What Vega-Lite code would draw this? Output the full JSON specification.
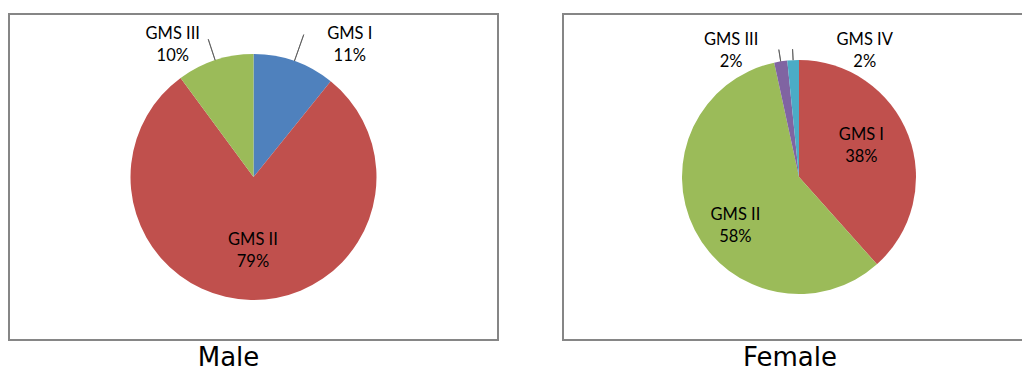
{
  "$schema": "https://vega.github.io/schema/vega-lite/v6.json",
  "background": "white",
  "padding": {"left": 8, "top": 13, "right": 0, "bottom": 0},
  "spacing": 63,
  "resolve": {"scale": {"color": "independent", "theta": "independent"}},
  "config": {
    "text": {"font": "Lato", "fontSize": 16.5, "color": "#000000", "lineBreak": "\n", "lineHeight": 22}
  },
  "datasets": {
    "male": [
      {"panel": "Male", "category": "GMS I", "share": 10.8, "order": 1},
      {"panel": "Male", "category": "GMS II", "share": 79.1, "order": 2},
      {"panel": "Male", "category": "GMS III", "share": 10.1, "order": 3}
    ],
    "female": [
      {"panel": "Female", "category": "GMS I", "share": 38.4, "order": 1},
      {"panel": "Female", "category": "GMS II", "share": 58.2, "order": 2},
      {"panel": "Female", "category": "GMS III", "share": 1.8, "order": 3},
      {"panel": "Female", "category": "GMS IV", "share": 1.6, "order": 4}
    ]
  },
  "hconcat": [
    {
      "width": 489,
      "height": 326,
      "view": {"stroke": "#868686", "strokeWidth": 2},
      "title": {"text": "Male", "orient": "bottom", "font": "DejaVu Sans", "fontSize": 26, "fontWeight": "normal", "color": "#000000", "dx": -25, "offset": 5},
      "data": {"name": "male"},
      "transform": [
        {"stack": "share", "groupby": [], "sort": [{"field": "order", "order": "ascending"}], "as": ["s0", "s1"]},
        {"calculate": "(datum.s0 + datum.s1) / 2", "as": "mid"},
        {"calculate": "datum.panel + '|' + datum.category", "as": "key"},
        {"calculate": "datum.category + '\\n' + format(datum.share, '.0f') + '%'", "as": "label"}
      ],
      "layer": [
        {
          "mark": {"type": "arc", "outerRadius": 123},
          "encoding": {
            "theta": {"field": "s0", "type": "quantitative", "scale": {"domain": [0, 100]}},
            "theta2": {"field": "s1"},
            "color": {"field": "key", "type": "nominal", "legend": null,
              "scale": {"domain": ["Male|GMS I", "Male|GMS II", "Male|GMS III"], "range": ["#4F81BD", "#C0504D", "#9BBB59"]}}
          }
        },
        {
          "transform": [{"filter": "datum.category == 'GMS I'"}],
          "mark": {"type": "arc", "innerRadius": 123, "outerRadius": 151, "fill": "transparent", "stroke": "#555555", "strokeWidth": 0.8},
          "encoding": {"theta": {"field": "mid", "type": "quantitative", "stack": null, "scale": {"domain": [0, 100]}}, "theta2": {"field": "mid"}}
        },
        {
          "transform": [{"filter": "datum.category == 'GMS III'"}],
          "mark": {"type": "arc", "innerRadius": 123, "outerRadius": 145, "fill": "transparent", "stroke": "#555555", "strokeWidth": 0.8},
          "encoding": {"theta": {"field": "mid", "type": "quantitative", "stack": null, "scale": {"domain": [0, 100]}}, "theta2": {"field": "mid"}}
        },
        {
          "transform": [{"filter": "datum.category == 'GMS I'"}],
          "mark": {"type": "text", "radius": 160, "dx": 43, "dy": 8},
          "encoding": {"theta": {"field": "mid", "type": "quantitative", "stack": null, "scale": {"domain": [0, 100]}}, "text": {"field": "label"}}
        },
        {
          "transform": [{"filter": "datum.category == 'GMS II'"}],
          "mark": {"type": "text", "radius": 70, "dx": 1, "dy": -7},
          "encoding": {"theta": {"field": "mid", "type": "quantitative", "stack": null, "scale": {"domain": [0, 100]}}, "text": {"field": "label"}}
        },
        {
          "transform": [{"filter": "datum.category == 'GMS III'"}],
          "mark": {"type": "text", "radius": 153, "dx": -33, "dy": 2},
          "encoding": {"theta": {"field": "mid", "type": "quantitative", "stack": null, "scale": {"domain": [0, 100]}}, "text": {"field": "label"}}
        }
      ]
    },
    {
      "width": 470,
      "height": 326,
      "view": {"stroke": "#868686", "strokeWidth": 2},
      "title": {"text": "Female", "orient": "bottom", "font": "DejaVu Sans", "fontSize": 26, "fontWeight": "normal", "color": "#000000", "dx": -8, "offset": 5},
      "data": {"name": "female"},
      "transform": [
        {"stack": "share", "groupby": [], "sort": [{"field": "order", "order": "ascending"}], "as": ["s0", "s1"]},
        {"calculate": "(datum.s0 + datum.s1) / 2", "as": "mid"},
        {"calculate": "datum.panel + '|' + datum.category", "as": "key"},
        {"calculate": "datum.category + '\\n' + format(datum.share, '.0f') + '%'", "as": "label"}
      ],
      "layer": [
        {
          "mark": {"type": "arc", "outerRadius": 117, "xOffset": 1},
          "encoding": {
            "theta": {"field": "s0", "type": "quantitative", "scale": {"domain": [0, 100]}},
            "theta2": {"field": "s1"},
            "color": {"field": "key", "type": "nominal", "legend": null,
              "scale": {"domain": ["Female|GMS I", "Female|GMS II", "Female|GMS III", "Female|GMS IV"], "range": ["#C0504D", "#9BBB59", "#8064A2", "#4BACC6"]}}
          }
        },
        {
          "transform": [{"filter": "datum.category == 'GMS III'"}],
          "mark": {"type": "arc", "innerRadius": 117, "outerRadius": 129, "xOffset": 1, "fill": "transparent", "stroke": "#555555", "strokeWidth": 0.8},
          "encoding": {"theta": {"field": "mid", "type": "quantitative", "stack": null, "scale": {"domain": [0, 100]}}, "theta2": {"field": "mid"}}
        },
        {
          "transform": [{"filter": "datum.category == 'GMS IV'"}],
          "mark": {"type": "arc", "innerRadius": 117, "outerRadius": 128, "xOffset": 1, "fill": "transparent", "stroke": "#555555", "strokeWidth": 0.8},
          "encoding": {"theta": {"field": "mid", "type": "quantitative", "stack": null, "scale": {"domain": [0, 100]}}, "theta2": {"field": "mid"}}
        },
        {
          "transform": [{"filter": "datum.category == 'GMS I'"}],
          "mark": {"type": "text", "radius": 70, "dx": -2, "dy": -17},
          "encoding": {"theta": {"field": "mid", "type": "quantitative", "stack": null, "scale": {"domain": [0, 100]}}, "text": {"field": "label"}}
        },
        {
          "transform": [{"filter": "datum.category == 'GMS II'"}],
          "mark": {"type": "text", "radius": 77, "dx": 6, "dy": 3},
          "encoding": {"theta": {"field": "mid", "type": "quantitative", "stack": null, "scale": {"domain": [0, 100]}}, "text": {"field": "label"}}
        },
        {
          "transform": [{"filter": "datum.category == 'GMS III'"}],
          "mark": {"type": "text", "radius": 140, "dx": -45, "dy": 1},
          "encoding": {"theta": {"field": "mid", "type": "quantitative", "stack": null, "scale": {"domain": [0, 100]}}, "text": {"field": "label"}}
        },
        {
          "transform": [{"filter": "datum.category == 'GMS IV'"}],
          "mark": {"type": "text", "radius": 125, "dx": 73, "dy": -12},
          "encoding": {"theta": {"field": "mid", "type": "quantitative", "stack": null, "scale": {"domain": [0, 100]}}, "text": {"field": "label"}}
        }
      ]
    }
  ]
}
